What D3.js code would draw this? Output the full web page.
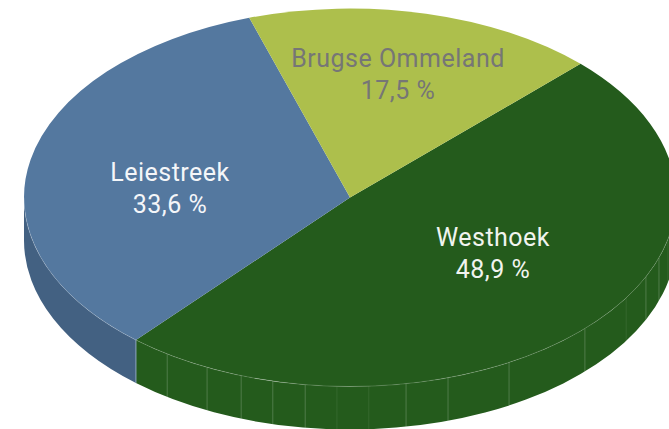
<!DOCTYPE html>
<html>
<head>
<meta charset="utf-8">
<script src="https://cdn.jsdelivr.net/npm/d3@7"></script>
<style>
  html, body { margin: 0; padding: 0; background: #fff; overflow: hidden; }
  svg { display: block; }
  text { font-family: "Roboto", sans-serif; font-size: 25px; letter-spacing: 0.5px; text-anchor: middle; }
</style>
</head>
<body>
<div id="chart"></div>
<script>
// regions, clockwise from the start angle
const regions = ["Westhoek", "Leiestreek", "Brugse Ommeland"];
const shares = [48.9, 33.6, 17.5];
const topColors = ["#245b1c", "#54789f", "#adbf4c"];
const sideColors = ["#245b1c", "#436182", "#8f9e3f"];
const textColors = ["#f1f4ef", "#f4f6f9", "#767676"];

// joints in the side wall of the pie, degrees clockwise from the top
const seamAngles = [214.1, 206, 199.5, 193.7, 187.9, 182.3, 176.7, 170.1, 162.5, 150.8, 133.9, 122.1, 114.8, 108.6, 102.8];
const faintSeams = [182.3, 176.7, 122.1, 102.8];

const width = 669, height = 429;
const cx = 350, cy = 197.5, rx = 326, ry = 189, depth = 43;
const squash = ry / rx;
const depthU = depth / squash; // depth before the y squash
const rad = d => d * Math.PI / 180;

// centre of each two line label
const labelPos = [[493, 253], [170, 188], [398, 74]];

const svg = d3.select("#chart").append("svg")
  .attr("width", width)
  .attr("height", height);

const g = svg.append("g")
  .attr("transform", `translate(${cx},${cy}) scale(1,${squash})`);

const pie = d3.pie().sort(null).startAngle(rad(45)).endAngle(rad(405));
const slices = pie(shares);
const arc = d3.arc().innerRadius(0).outerRadius(rx);

// only the front half of the wall can be seen
function frontRange(d) {
  const a0 = Math.max(d.startAngle, rad(90));
  const a1 = Math.min(d.endAngle, rad(270));
  return a1 > a0 ? [a0, a1] : null;
}

function wallPath(d) {
  const r = frontRange(d);
  if (!r) return null;
  const a0 = r[0] - Math.PI / 2, a1 = r[1] - Math.PI / 2;
  const p = d3.path();
  p.arc(0, 0, rx, a0, a1);
  p.lineTo(rx * Math.cos(a1), rx * Math.sin(a1) + depthU);
  p.arc(0, depthU, rx, a1, a0, true);
  p.closePath();
  return p.toString();
}

function rimPath(d) {
  const r = frontRange(d);
  if (!r) return null;
  const p = d3.path();
  p.arc(0, 0, rx, r[0] - Math.PI / 2, r[1] - Math.PI / 2);
  return p.toString();
}

// side wall
g.selectAll("path.wall")
  .data(slices)
  .enter()
  .append("path")
    .attr("class", "wall")
    .attr("d", wallPath)
    .attr("fill", (d, i) => sideColors[i]);

// wall joints
g.selectAll("line.seam")
  .data(seamAngles)
  .enter()
  .append("line")
    .attr("class", "seam")
    .attr("x1", d => rx * Math.sin(rad(d)))
    .attr("x2", d => rx * Math.sin(rad(d)))
    .attr("y1", d => -rx * Math.cos(rad(d)))
    .attr("y2", d => -rx * Math.cos(rad(d)) + depthU)
    .attr("stroke", "#fff")
    .attr("stroke-opacity", d => faintSeams.includes(d) ? 0.08 : 0.2)
    .attr("stroke-width", 1)
    .attr("vector-effect", "non-scaling-stroke");

// joint between the blue and the green wall
const joint = slices[0].endAngle;
g.append("line")
  .attr("x1", rx * Math.sin(joint))
  .attr("x2", rx * Math.sin(joint))
  .attr("y1", -rx * Math.cos(joint))
  .attr("y2", -rx * Math.cos(joint) + depthU)
  .attr("stroke", "#8ba3bd")
  .attr("stroke-width", 1)
  .attr("vector-effect", "non-scaling-stroke");

// top face
g.selectAll("path.top")
  .data(slices)
  .enter()
  .append("path")
    .attr("class", "top")
    .attr("d", arc)
    .attr("fill", (d, i) => topColors[i]);

// light edge where top face meets the wall
g.selectAll("path.rim")
  .data(slices)
  .enter()
  .append("path")
    .attr("class", "rim")
    .attr("d", rimPath)
    .attr("fill", "none")
    .attr("stroke", "#fff")
    .attr("stroke-opacity", 0.18)
    .attr("stroke-width", 1)
    .attr("vector-effect", "non-scaling-stroke");

// labels
const labels = svg.selectAll("text.label")
  .data(slices)
  .enter()
  .append("text")
    .attr("class", "label")
    .attr("x", (d, i) => labelPos[i][0])
    .attr("y", (d, i) => labelPos[i][1] - 7)
    .attr("fill", (d, i) => textColors[i]);

labels.append("tspan")
  .text((d, i) => regions[i]);

labels.append("tspan")
  .attr("x", (d, i) => labelPos[i][0])
  .attr("dy", 32)
  .text((d, i) => String(shares[i]).replace(".", ",") + " %");
</script>
</body>
</html>
